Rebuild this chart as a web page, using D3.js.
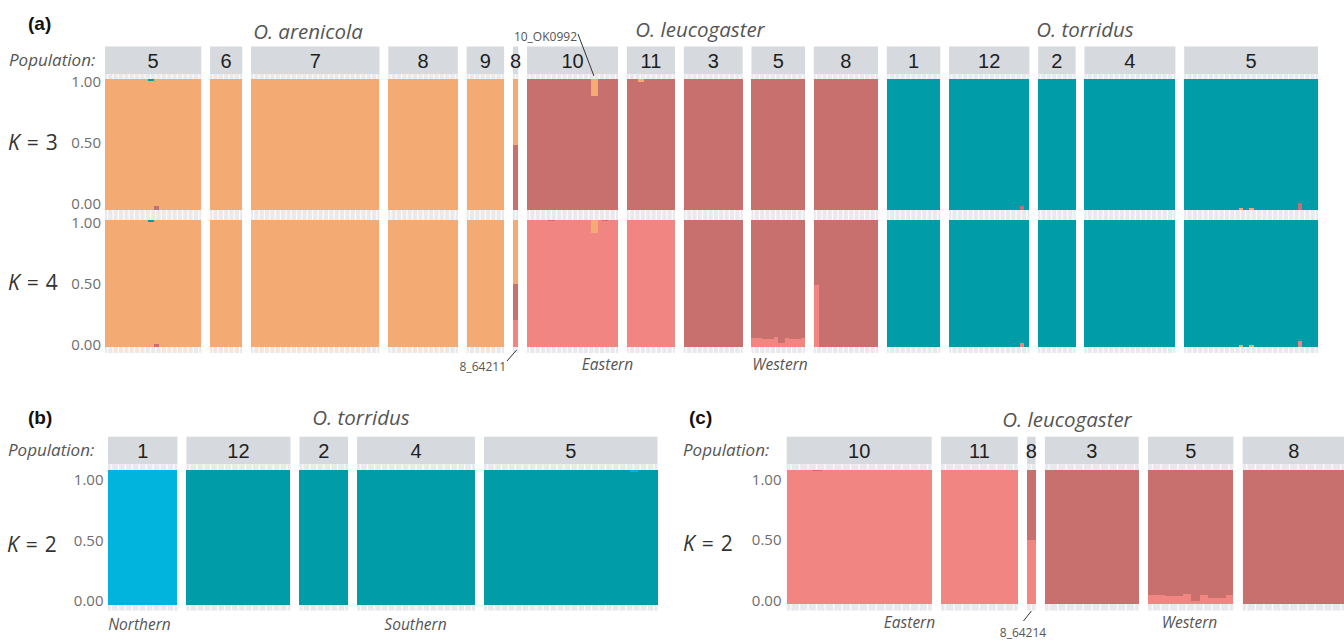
<!DOCTYPE html>
<html>
<head>
<meta charset="utf-8">
<script src="https://cdn.jsdelivr.net/npm/d3@7"></script>
<style>
  body { margin: 0; background: #fff; }
  svg { display: block; }
</style>
</head>
<body>
<svg id="chart" width="1344" height="640"></svg>
<script>
// ---------- data ----------
// (a) all three species, K = 3 and K = 4
const popLabelsA = ["5", "6", "7", "8", "9", "8", "10", "11", "3", "5", "8", "1", "12", "2", "4", "5"];
const popSizesA  = [18, 6, 24, 13, 7, 1, 17, 9, 11, 10, 12, 10, 15, 7, 17, 25];
const homeK3 = ["orange", "orange", "orange", "orange", "orange", "orange",
                "red", "red", "red", "red", "red",
                "teal", "teal", "teal", "teal", "teal"];
const homeK4 = ["orange", "orange", "orange", "orange", "orange", "orange",
                "east", "east", "west", "west", "west",
                "teal", "teal", "teal", "teal", "teal"];
// admixed individuals: [population index, individual index, proportions]
const admixK3 = [
  [0, 8, { orange: 0.985, teal: 0.015 }],
  [0, 9, { red: 0.03, orange: 0.97 }],
  [5, 0, { red: 0.50, orange: 0.50 }],
  [6, 12, { red: 0.873, orange: 0.127 }],
  [7, 2, { red: 0.98, orange: 0.02 }],
  [12, 13, { red: 0.03, teal: 0.97 }],
  [15, 10, { orange: 0.015, teal: 0.985 }],
  [15, 12, { orange: 0.015, teal: 0.985 }],
  [15, 21, { red: 0.05, teal: 0.95 }]
];
// eastern share of the western population 5 individuals
const eastShareW5K4 = [0.072, 0.072, 0.065, 0.062, 0.075, 0.03, 0.07, 0.06, 0.06, 0.072];
const admixK4 = [
  [0, 8, { orange: 0.985, teal: 0.015 }],
  [0, 9, { west: 0.025, orange: 0.975 }],
  [5, 0, { east: 0.21, west: 0.29, orange: 0.50 }],
  [6, 4, { east: 0.99, west: 0.01 }],
  [6, 12, { east: 0.90, orange: 0.10 }],
  [6, 14, { east: 0.99, west: 0.01 }],
  [10, 0, { east: 0.49, west: 0.51 }],
  [12, 13, { east: 0.03, teal: 0.97 }],
  [15, 10, { orange: 0.015, teal: 0.985 }],
  [15, 12, { orange: 0.015, teal: 0.985 }],
  [15, 21, { east: 0.05, teal: 0.95 }]
].concat(eastShareW5K4.map((v, j) => [9, j, { east: v, west: 1 - v }]));

// (b) O. torridus, K = 2
const popLabelsB = ["1", "12", "2", "4", "5"];
const popSizesB  = [10, 15, 7, 17, 25];
const homeB = ["north", "south", "south", "south", "south"];
const admixB = [[4, 21, { south: 0.988, north: 0.012 }]];

// (c) O. leucogaster, K = 2
const popLabelsC = ["10", "11", "8", "3", "5", "8"];
const popSizesC  = [17, 9, 1, 11, 10, 12];
const homeC = ["east", "east", "east", "west", "west", "west"];
const eastShareW5C = [0.069, 0.069, 0.062, 0.059, 0.074, 0.025, 0.069, 0.047, 0.047, 0.069];
const admixC = [
  [0, 3, { east: 0.992, west: 0.008 }],
  [2, 0, { east: 0.474, west: 0.526 }]
].concat(eastShareW5C.map((v, j) => [4, j, { east: v, west: 1 - v }]));

const yTicks = [0, 0.5, 1];

// ---------- style ----------
const colors = {
  red: "#c8706e", west: "#c8706e", east: "#f08582", orange: "#f3ab73",
  teal: "#009da8", south: "#009da8", north: "#00b4dd"
};
const sansUI = "'Open Sans', 'Noto Sans', sans-serif";
const sansStrip = "'Liberation Sans', Arial, sans-serif";

const svg = d3.select("#chart");

// facet x scales: widths proportional to the number of individuals
function facetLayout(sizes, x0, x1, gap) {
  const N = d3.sum(sizes);
  const w = (x1 - x0 - gap * (sizes.length - 1)) / N;
  let cum = 0;
  return sizes.map((n, i) => {
    const start = x0 + cum * w + i * gap;
    cum += n;
    return d3.scaleBand().domain(d3.range(n)).range([start, start + n * w]).padding(0);
  });
}

// one record per individual with its ancestry proportions
function buildIndividuals(sizes, home, admix, keys) {
  const rows = [];
  sizes.forEach((n, i) => {
    for (let j = 0; j < n; j++) {
      const r = { pop: i, ind: j };
      keys.forEach(k => r[k] = 0);
      r[home[i]] = 1;
      rows.push(r);
    }
  });
  admix.forEach(([p, j, q]) => {
    const r = rows.find(d => d.pop === p && d.ind === j);
    keys.forEach(k => r[k] = q[k] || 0);
  });
  return rows;
}

function drawStrips(g, xs, labels, top, bottom) {
  xs.forEach((xb, i) => {
    const [a, b] = xb.range();
    g.append("rect").attr("x", a).attr("y", top).attr("width", b - a)
      .attr("height", bottom - top).attr("fill", "#d6d9de");
    g.append("text").attr("x", (a + b) / 2).attr("y", (top + bottom) / 2 + 7.5)
      .attr("text-anchor", "middle").attr("font-family", sansStrip)
      .attr("font-size", 20).attr("fill", "#1e1e1e").text(labels[i]);
  });
}

function drawRow(g, xs, data, keys, opt) {
  const y = d3.scaleLinear().domain([0, 1]).range([opt.barBottom, opt.barTop]);
  const yAxisScale = d3.scaleLinear().domain([0, 1]).range([opt.axisBottom, opt.axisTop]);

  // panel background; a light tick per individual shows above and below the bars
  xs.forEach(xb => {
    const [a, b] = xb.range();
    g.append("rect").attr("x", a).attr("y", opt.bgTop).attr("width", b - a)
      .attr("height", opt.bgBottom - opt.bgTop).attr("fill", "#e8e9ed");
    [[opt.bgTop, opt.barTop], [opt.barBottom, opt.bgBottom]].forEach(([t, bt]) => {
      g.selectAll(null).data(xb.domain()).enter().append("line")
        .attr("x1", d => xb(d) + xb.bandwidth() / 2).attr("x2", d => xb(d) + xb.bandwidth() / 2)
        .attr("y1", t).attr("y2", bt)
        .attr("stroke", "#fbfbfc").attr("stroke-width", 1.3);
    });
  });

  // stacked ancestry bars
  const series = d3.stack().keys(keys)(data);
  const bars = g.append("g").attr("shape-rendering", "crispEdges");
  series.forEach(s => {
    bars.selectAll(null).data(s.filter(d => d[1] - d[0] > 0)).enter().append("rect")
      .attr("x", d => xs[d.data.pop](d.data.ind))
      .attr("width", d => {
        const xb = xs[d.data.pop];
        const x = xb(d.data.ind);
        return Math.min(x + xb.bandwidth() + 1, xb.range()[1]) - x;
      })
      .attr("y", d => y(d[1]))
      .attr("height", d => y(d[0]) - y(d[1]))
      .attr("fill", colors[s.key]);
  });

  // y axis
  const ax = g.append("g").attr("transform", `translate(${opt.axisX},0)`)
    .call(d3.axisLeft(yAxisScale).tickValues(yTicks).tickFormat(d3.format(".2f"))
      .tickSize(0).tickPadding(3));
  ax.select(".domain").remove();
  ax.selectAll("text").attr("font-family", sansUI).attr("font-size", 15).attr("fill", "#6e6e6e");

  // K label
  const kt = g.append("text").attr("x", opt.kX).attr("y", opt.kY + 7)
    .attr("font-family", sansUI).attr("font-size", 21).attr("fill", "#333");
  kt.append("tspan").attr("font-style", "italic").text("K");
  kt.append("tspan").attr("dx", 7).text("=");
  kt.append("tspan").attr("dx", 7).text(opt.k);
}

function label(g, text, x, y, o = {}) {
  return g.append("text").attr("x", x).attr("y", y)
    .attr("text-anchor", o.anchor || "start")
    .attr("font-family", o.family || sansUI)
    .attr("font-size", o.size || 16)
    .attr("font-style", o.italic ? "italic" : "normal")
    .attr("font-weight", o.bold ? "bold" : "normal")
    .attr("fill", o.color || "#555").text(text);
}

// ---------- panel (a) ----------
const gA = svg.append("g");
const xsA = facetLayout(popSizesA, 105, 1318, 8.8);
drawStrips(gA, xsA, popLabelsA, 46.5, 74.5);
const keysK3 = ["red", "orange", "teal"];
const keysK4 = ["east", "west", "orange", "teal"];
drawRow(gA, xsA, buildIndividuals(popSizesA, homeK3, admixK3, keysK3), keysK3, {
  barTop: 79, barBottom: 210, bgTop: 74.5, bgBottom: 214.8,
  axisTop: 81.7, axisBottom: 203.3, axisX: 104, k: 3, kX: 8, kY: 142.7
});
drawRow(gA, xsA, buildIndividuals(popSizesA, homeK4, admixK4, keysK4), keysK4, {
  barTop: 220, barBottom: 347, bgTop: 214.8, bgBottom: 353,
  axisTop: 222.7, axisBottom: 344.3, axisX: 104, k: 4, kX: 8, kY: 283.3
});
label(gA, "(a)", 28, 30, { family: sansStrip, size: 19, bold: true, color: "#111" });
label(gA, "Population:", 9, 66, { italic: true, size: 17 });
label(gA, "O. arenicola", 308, 39, { anchor: "middle", italic: true, size: 20.5 });
label(gA, "O. leucogaster", 700, 37, { anchor: "middle", italic: true, size: 20.5 });
label(gA, "O. torridus", 1085, 37, { anchor: "middle", italic: true, size: 20.5 });
label(gA, "Eastern", 607.5, 370, { anchor: "middle", italic: true, size: 15.5 });
label(gA, "Western", 780, 370, { anchor: "middle", italic: true, size: 15.5 });

// individual call-outs
{
  const xb = xsA[6];
  const cx = xb(12) + xb.bandwidth() / 2;
  label(gA, "10_OK0992", 577, 41, { anchor: "end", size: 12, color: "#555" });
  gA.append("line").attr("x1", 578).attr("y1", 34).attr("x2", cx).attr("y2", 76)
    .attr("stroke", "#333").attr("stroke-width", 1);
  const xs8 = xsA[5];
  const c8 = xs8(0) + xs8.bandwidth() / 2;
  label(gA, "8_64211", 506, 371, { anchor: "end", size: 12, color: "#555" });
  gA.append("line").attr("x1", 507).attr("y1", 361).attr("x2", c8 + 1).attr("y2", 350)
    .attr("stroke", "#333").attr("stroke-width", 1);
}

// ---------- panel (b) ----------
const gB = svg.append("g");
const xsB = facetLayout(popSizesB, 108, 657.5, 9);
const keysB = ["south", "north"];
drawStrips(gB, xsB, popLabelsB, 436.7, 464.3);
drawRow(gB, xsB, buildIndividuals(popSizesB, homeB, admixB, keysB), keysB, {
  barTop: 470, barBottom: 605, bgTop: 464.3, bgBottom: 610.5,
  axisTop: 479.8, axisBottom: 601, axisX: 106.5, k: 2, kX: 7, kY: 544.5
});
label(gB, "(b)", 28, 424, { family: sansStrip, size: 19, bold: true, color: "#111" });
label(gB, "Population:", 8, 456, { italic: true, size: 17 });
label(gB, "O. torridus", 361, 425, { anchor: "middle", italic: true, size: 20.5 });
label(gB, "Northern", 139.5, 630, { anchor: "middle", italic: true, size: 15.5 });
label(gB, "Southern", 415.5, 630, { anchor: "middle", italic: true, size: 15.5 });

// ---------- panel (c) ----------
const gC = svg.append("g");
const xsC = facetLayout(popSizesC, 786.7, 1345, 9.3);
const keysC = ["east", "west"];
drawStrips(gC, xsC, popLabelsC, 436.7, 464.3);
drawRow(gC, xsC, buildIndividuals(popSizesC, homeC, admixC, keysC), keysC, {
  barTop: 469.5, barBottom: 604, bgTop: 464.3, bgBottom: 610.5,
  axisTop: 479.4, axisBottom: 600.7, axisX: 784.5, k: 2, kX: 683, kY: 544
});
label(gC, "(c)", 689, 424, { family: sansStrip, size: 19, bold: true, color: "#111" });
label(gC, "Population:", 683, 456, { italic: true, size: 17 });
label(gC, "O. leucogaster", 1067, 427, { anchor: "middle", italic: true, size: 20.5 });
label(gC, "Eastern", 909.5, 627.5, { anchor: "middle", italic: true, size: 15.5 });
label(gC, "Western", 1189.5, 627.5, { anchor: "middle", italic: true, size: 15.5 });
{
  const xb = xsC[2];
  const c8 = xb(0) + xb.bandwidth() / 2;
  label(gC, "8_64214", 1023, 636.5, { anchor: "middle", size: 12, color: "#555" });
  gC.append("line").attr("x1", 1023.5).attr("y1", 621).attr("x2", c8).attr("y2", 611)
    .attr("stroke", "#333").attr("stroke-width", 1);
}
</script>
</body>
</html>
